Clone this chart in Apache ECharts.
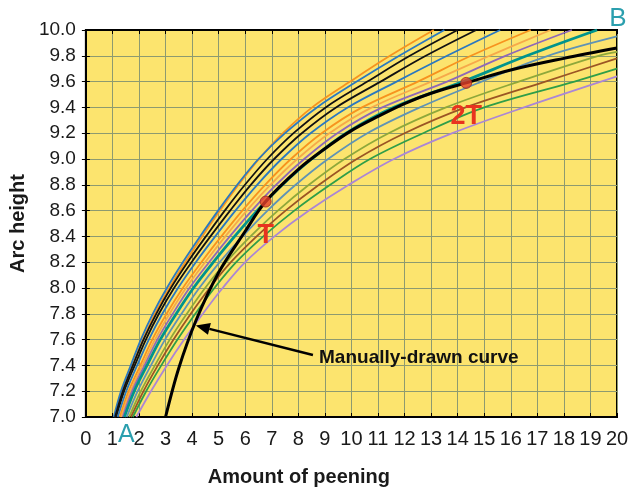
<!DOCTYPE html>
<html>
<head>
<meta charset="utf-8">
<script src="https://cdn.jsdelivr.net/npm/echarts@6/dist/echarts.min.js"></script>
<style>
html,body{margin:0;padding:0;background:#fff;}
#c{width:639px;height:492px;}
</style>
</head>
<body>
<div id="c"></div>
<script>
// Arc-height levels at which each saturation curve's crossing x is read
const yLevels = [7.0, 7.2, 7.4, 7.6, 7.8, 8.0, 8.2, 8.4, 8.6, 8.8, 9.0, 9.2, 9.4, 9.6, 9.8, 10.0];

// crossing x (amount of peening) for each curve at yLevels (outer -> inner)
const orange1 = [1.10, 1.38, 1.76, 2.15, 2.60, 3.14, 3.74, 4.38, 5.05, 5.75, 6.52, 7.42, 8.52, 9.95, 11.45, 13.1];
const blue1   = [1.05, 1.32, 1.69, 2.07, 2.52, 3.05, 3.65, 4.30, 4.98, 5.70, 6.50, 7.50, 8.70, 10.2, 11.8, 13.5];
const black1  = [1.10, 1.39, 1.77, 2.17, 2.65, 3.20, 3.83, 4.52, 5.23, 5.99, 6.83, 7.82, 9.03, 10.6, 12.2, 14.0];
const black2  = [1.14, 1.44, 1.84, 2.26, 2.75, 3.32, 3.98, 4.69, 5.43, 6.21, 7.09, 8.13, 9.42, 11.1, 12.8, 14.7];
const blue2   = [1.20, 1.52, 1.93, 2.37, 2.88, 3.47, 4.14, 4.87, 5.63, 6.45, 7.37, 8.46, 9.86, 11.7, 13.6, 15.6];
const orange2 = [1.28, 1.61, 2.05, 2.50, 3.04, 3.65, 4.35, 5.10, 5.89, 6.75, 7.72, 8.88, 10.4, 12.5, 14.5, 16.75];
const orange3 = [1.33, 1.68, 2.13, 2.60, 3.15, 3.77, 4.49, 5.25, 6.06, 6.95, 7.96, 9.17, 10.77, 13.0, 15.2, 17.5];
const purple1 = [1.39, 1.74, 2.21, 2.69, 3.27, 3.90, 4.64, 5.42, 6.25, 7.16, 8.22, 9.47, 11.16, 13.6, 15.8, 18.3];
const teal    = [1.45, 1.82, 2.30, 2.80, 3.40, 4.05, 4.80, 5.60, 6.45, 7.40, 8.50, 9.80, 11.6, 14.2, 16.6, 19.25];
const slate   = [1.54, 1.95, 2.45, 2.98, 3.60, 4.27, 5.04, 5.90, 6.84, 7.90, 9.12, 10.6, 12.58, 14.9, 17.4];
const olive   = [1.63, 2.07, 2.60, 3.16, 3.80, 4.49, 5.28, 6.20, 7.23, 8.40, 9.74, 11.4, 13.56, 16.3, 19.3];
const brown   = [1.70, 2.17, 2.71, 3.30, 3.95, 4.66, 5.46, 6.43, 7.52, 8.78, 10.2, 12.0, 14.3, 17.3];
const green   = [1.77, 2.27, 2.84, 3.45, 4.12, 4.84, 5.66, 6.68, 7.85, 9.20, 10.7, 12.7, 15.0, 18.4];
const purple2 = [1.90, 2.45, 3.05, 3.70, 4.40, 5.15, 6.00, 7.10, 8.40, 9.90, 11.6, 13.8, 16.5];

// arc height where curves that don't reach 10.0 leave the right edge (x = 20)
const edgeY = { slate: 9.95, olive: 9.83, brown: 9.78, green: 9.70, purple2: 9.64 };

// manually drawn curve
const manualX = [3.0, 3.5, 4.15, 5.0, 6.0, 6.77, 8.0, 9.0, 10.0, 11.0, 12.0, 13.0, 14.32, 16.0, 18.0, 20.0];
const manualY = [7.0, 7.38, 7.75, 8.12, 8.44, 8.67, 8.92, 9.08, 9.22, 9.33, 9.43, 9.51, 9.59, 9.69, 9.78, 9.86];

// marked points T and 2T
const markNames = ['T', '2T'];
const markX = [6.77, 14.32];
const markY = [8.67, 9.59];

const xTicks = [0,1,2,3,4,5,6,7,8,9,10,11,12,13,14,15,16,17,18,19,20];
const yTicks = [7.0,7.2,7.4,7.6,7.8,8.0,8.2,8.4,8.6,8.8,9.0,9.2,9.4,9.6,9.8,10.0];

const curves = [
  {name:'orange1', xs:orange1, color:'#f7931e', w:1.8},
  {name:'blue1',   xs:blue1,   color:'#2a78c0', w:1.8},
  {name:'black1',  xs:black1,  color:'#111111', w:1.8},
  {name:'black2',  xs:black2,  color:'#111111', w:1.8},
  {name:'blue2',   xs:blue2,   color:'#2a78c0', w:1.8},
  {name:'orange2', xs:orange2, color:'#f7931e', w:1.8},
  {name:'orange3', xs:orange3, color:'#f6a94a', w:1.8},
  {name:'purple1', xs:purple1, color:'#8e68b8', w:1.8},
  {name:'teal',    xs:teal,    color:'#00948c', w:2.8},
  {name:'slate',   xs:slate,   color:'#5f93b5', w:1.8},
  {name:'olive',   xs:olive,   color:'#8ea83a', w:1.8},
  {name:'brown',   xs:brown,   color:'#9b5524', w:1.8},
  {name:'green',   xs:green,   color:'#2f9e48', w:1.8},
  {name:'purple2', xs:purple2, color:'#ab86d6', w:1.8}
];

const series = curves.map(c => {
  const data = c.xs.map((x, i) => [x, yLevels[i]]);
  if (edgeY[c.name] !== undefined) data.push([20, edgeY[c.name]]);
  return {
    type:'line', data, smooth:0.35, showSymbol:false, silent:true,
    lineStyle:{color:c.color, width:c.w}, z:3
  };
});

series.push({
  type:'line', data: manualX.map((x,i)=>[x, manualY[i]]), smooth:0.35, showSymbol:false,
  lineStyle:{color:'#000', width:3}, z:5
});

series.push({
  type:'scatter', data: markX.map((x,i)=>({value:[x, markY[i]], name:markNames[i]})),
  symbolSize:11, itemStyle:{color:'#e5402b', borderColor:'#9a2a1a', borderWidth:1}, z:8
});

const gridLine = {show:true, lineStyle:{color:'#8d9a70', width:1}};
const fontF = 'Liberation Sans, Arial, sans-serif';

const chart = echarts.init(document.getElementById('c'), null, {renderer:'canvas'});
chart.setOption({
  backgroundColor:'#ffffff',
  animation:false,
  grid:{left:85, right:22, top:30, bottom:72, show:true, backgroundColor:'#fce46e', borderColor:'#000', borderWidth:2, containLabel:false},
  xAxis:[{
    type:'value', min:0, max:20, interval:1,
    axisLine:{show:true, onZero:false, lineStyle:{color:'#000', width:2}},
    axisTick:{show:true, inside:true, length:4, lineStyle:{color:'#000'}},
    splitLine:gridLine,
    axisLabel:{fontFamily:fontF, fontSize:20, color:'#1a1a1a', margin:12,
      formatter:v => xTicks.includes(v) ? String(v) : ''},
    name:'Amount of peening', nameLocation:'middle', nameGap:50,
    nameTextStyle:{fontFamily:fontF, fontWeight:'bold', fontSize:20, color:'#1a1a1a', padding:[0,105,0,0]}
  },{
    type:'value', min:0, max:20, interval:1, position:'top',
    axisLine:{show:true, lineStyle:{color:'#000', width:2}},
    axisTick:{show:true, inside:true, length:4, lineStyle:{color:'#000'}},
    axisLabel:{show:false}, splitLine:{show:false}
  }],
  yAxis:[{
    type:'value', min:7.0, max:10.0, interval:0.2,
    axisLine:{show:true, onZero:false, lineStyle:{color:'#000', width:2}},
    axisTick:{show:true, inside:true, length:4, lineStyle:{color:'#000'}},
    splitLine:gridLine,
    axisLabel:{fontFamily:fontF, fontSize:19, color:'#1a1a1a', margin:10,
      formatter:v => v.toFixed(1)},
    name:'Arc height', nameLocation:'middle', nameGap:53, nameRotate:90,
    nameTextStyle:{fontFamily:fontF, fontWeight:'bold', fontSize:20, color:'#1a1a1a'}
  },{
    type:'value', min:7.0, max:10.0, interval:0.2, position:'right',
    axisLine:{show:true, lineStyle:{color:'#000', width:2}},
    axisTick:{show:true, inside:true, length:4, lineStyle:{color:'#000'}},
    axisLabel:{show:false}, splitLine:{show:false}
  }],
  series
});

// annotations anchored to data coordinates
const tip = chart.convertToPixel({gridIndex:0}, [4.14, 7.71]);
const tail = chart.convertToPixel({gridIndex:0}, [8.55, 7.48]);
const txt = chart.convertToPixel({gridIndex:0}, [8.78, 7.46]);
const pA = chart.convertToPixel({gridIndex:0}, [1.52, 7.0]);
const pB = chart.convertToPixel({gridIndex:0}, [20, 10.0]);
const ang = Math.atan2(tip[1]-tail[1], tip[0]-tail[0]);
const hl = 14, hw = 6;
const bx = tip[0] - hl*Math.cos(ang), by = tip[1] - hl*Math.sin(ang);
const px = -Math.sin(ang), py = Math.cos(ang);

const markLabels = markNames.map((n, i) => {
  const p = chart.convertToPixel({gridIndex:0}, [markX[i], markY[i]]);
  return {type:'text', x:p[0], y:p[1]+34, z:30,
    style:{text:n, font:'bold 27px Liberation Sans, Arial, sans-serif', fill:'#e8341f', textAlign:'center', textVerticalAlign:'middle'}};
});

chart.setOption({
  graphic:[
    {type:'line', shape:{x1:tail[0], y1:tail[1], x2:bx, y2:by}, style:{stroke:'#000', lineWidth:2.5}, z:20},
    {type:'polygon', shape:{points:[[tip[0],tip[1]],[bx+px*hw, by+py*hw],[bx-px*hw, by-py*hw]]}, style:{fill:'#000'}, z:20},
    {type:'text', x:txt[0], y:txt[1], style:{text:'Manually-drawn curve', font:'bold 19px Liberation Sans, Arial, sans-serif', fill:'#111', textVerticalAlign:'middle'}, z:20},
    {type:'text', x:pA[0], y:pA[1]+18, style:{text:'A', font:'25px Liberation Sans, Arial, sans-serif', fill:'#2b9fae', textAlign:'center', textVerticalAlign:'middle'}, z:20},
    {type:'text', x:pB[0]+1, y:pB[1]-11, style:{text:'B', font:'26px Liberation Sans, Arial, sans-serif', fill:'#2b9fae', textAlign:'center', textVerticalAlign:'middle'}, z:20}
  ].concat(markLabels)
});
</script>
</body>
</html>
